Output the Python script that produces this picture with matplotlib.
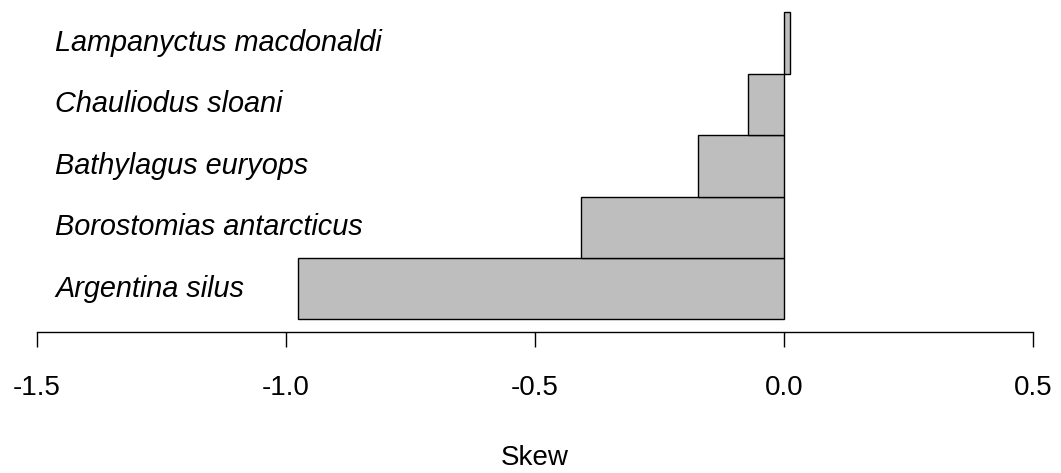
import numpy as np
import matplotlib
matplotlib.use("Agg")
import matplotlib.pyplot as plt

species = ["Argentina silus", "Borostomias antarcticus", "Bathylagus euryops",
           "Chauliodus sloani", "Lampanyctus macdonaldi"]
skew = [-0.976, -0.408, -0.173, -0.071, 0.012]
xticks = [-1.5, -1.0, -0.5, 0.0, 0.5]
xtick_labels = ["-1.5", "-1.0", "-0.5", "0.0", "0.5"]

plt.rcParams["font.family"] = ["Liberation Sans", "DejaVu Sans"]

W, H = 1061, 473
fig = plt.figure(figsize=(W / 100, H / 100), dpi=100)
ax = fig.add_axes([36.5 / W, 1 - 331.6 / H, (1033 - 36.5) / W, 331.6 / H])

pos = np.arange(len(species)) + 0.5
ax.barh(pos, skew, height=1.0, left=0, color="#BEBEBE", edgecolor="black", linewidth=1.0)

for p, name in zip(pos, species):
    ax.text(0.0185, p, name, transform=ax.get_yaxis_transform(), ha="left", va="center",
            fontsize=20.8, style="italic")

ax.set_xlim(-1.5, 0.5)
ax.set_ylim(-0.2, len(species) + 0.2)
ax.set_xticks(xticks)
ax.set_xticklabels(xtick_labels, fontsize=20)
ax.set_yticks([])
for s in ["top", "right", "left"]:
    ax.spines[s].set_visible(False)
ax.spines["bottom"].set_linewidth(1.0)
ax.tick_params(axis="x", length=11, width=1.0, pad=20, direction="out")

fig.text(535 / W, 1 - 458 / H, "Skew", ha="center", va="center", fontsize=20)

fig.savefig("out.png", dpi=100)
